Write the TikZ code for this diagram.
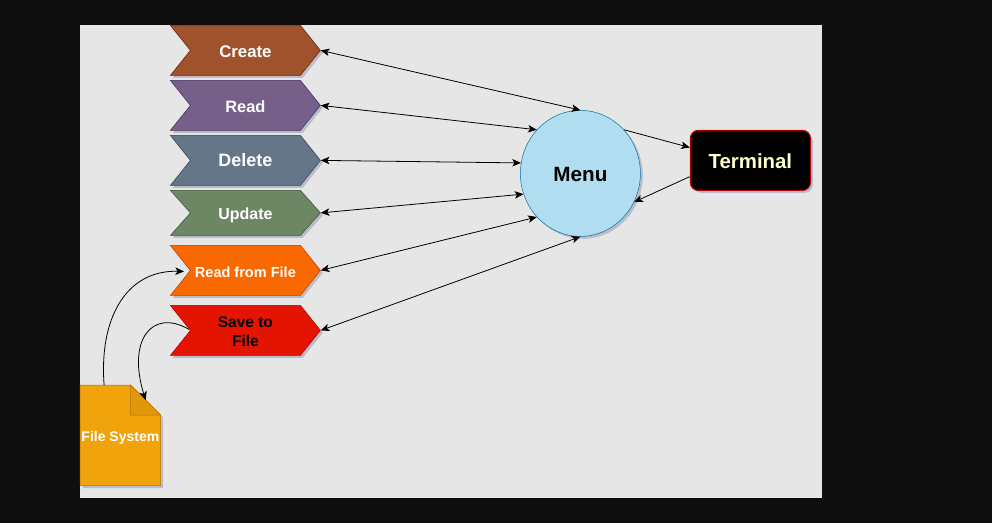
\documentclass[tikz,border=0pt]{standalone}
\usepackage{fontspec}
\setmainfont{Liberation Sans}
\usetikzlibrary{shapes.symbols, shapes.geometric, shadows, calc, arrows.meta}

\definecolor{panelgray}{HTML}{E6E6E6}
\definecolor{outerdark}{HTML}{0E0E0E}
\definecolor{shadowblue}{HTML}{6A6F9C}

\tikzset{
    softshadow/.style={drop shadow={shadow xshift=1.8pt, shadow yshift=-1.8pt, fill=shadowblue, opacity=0.35}},
    chevron/.style={shape=signal, signal from=west, signal to=east, signal pointer angle=102.7,
        minimum width=112.5pt, minimum height=37.5pt, inner sep=0pt, align=center,
        font=\bfseries, text=white, softshadow},
    onelinetext/.style={text height=10.5pt, text depth=0pt},
    arrowhead/.tip={Stealth[length=6.5pt, width=5.6pt, inset=1.6pt]},
    arrowboth/.style={arrowhead-arrowhead, draw, line width=0.6pt},
    arrowone/.style={-arrowhead, draw, line width=0.6pt}
}

\begin{document}
\begin{tikzpicture}[x=0.75pt, y=-0.75pt]

    % Fundo
    \fill[outerdark] (0,0) rectangle (992,523);
    \fill[panelgray] (80,25) rectangle (822,498);

    % Nodos de operacoes
    \node[chevron, onelinetext, fill={rgb,255:red,160;green,82;blue,45}, draw={rgb,255:red,109;green,31;blue,0}, font=\bfseries\fontsize{12.6pt}{15pt}\selectfont] (create) at (245.4,50.4) {Create};
    \node[chevron, onelinetext, fill={rgb,255:red,118;green,96;blue,138}, draw={rgb,255:red,67;green,45;blue,87}, font=\bfseries\fontsize{12.3pt}{15pt}\selectfont] (read) at (245.4,105.4) {Read};
    \node[chevron, fill={rgb,255:red,100;green,118;blue,135}, draw={rgb,255:red,49;green,67;blue,84}, font=\bfseries\fontsize{13.5pt}{15pt}\selectfont] (delete) at (245.4,160.4) {Delete};
    \node[chevron, onelinetext, signal pointer angle=96.7, minimum height=33.75pt, fill={rgb,255:red,109;green,135;blue,100}, draw={rgb,255:red,58;green,84;blue,49}, font=\bfseries\fontsize{12pt}{15pt}\selectfont] (update) at (245.4,212.9) {Update};
    \node[chevron, onelinetext, fill={rgb,255:red,250;green,104;blue,0}, draw={rgb,255:red,199;green,53;blue,0}, font=\bfseries\fontsize{10.9pt}{14pt}\selectfont] (readfile) at (245.4,270.4) {Read from File};
    \node[chevron, fill={rgb,255:red,229;green,20;blue,0}, draw={rgb,255:red,178;green,0;blue,0}, text=black, font=\bfseries\fontsize{11.6pt}{14.2pt}\selectfont] (savefile) at (245.4,330.4) {\rule{0pt}{10.5pt}Save to\\File};

    % Nodos principais
    \node[ellipse, text height=12.6pt, text depth=0pt, minimum width=90pt, minimum height=94.5pt, inner sep=0pt, fill={rgb,255:red,177;green,221;blue,240}, draw={rgb,255:red,16;green,115;blue,158}, softshadow, font=\bfseries\fontsize{15.5pt}{18pt}\selectfont] (menu) at (580.4,173.4) {Menu};
    \node[rectangle, text height=12.5pt, text depth=0pt, rounded corners=6pt, minimum width=90pt, minimum height=45pt, fill=black, draw={rgb,255:red,178;green,0;blue,0}, line width=0.9pt, text={rgb,255:red,255;green,255;blue,204}, softshadow, font=\bfseries\fontsize{15.3pt}{18pt}\selectfont] (terminal) at (750.4,160.4) {Terminal};

    % Nodo do arquivo
    \node[minimum width=60pt, minimum height=75pt, inner sep=0pt] (filesys) at (120.4,435.4) {};
    \draw[fill={rgb,255:red,240;green,163;blue,10}, draw={rgb,255:red,189;green,112;blue,0}, softshadow] (filesys.north west) -- ($(filesys.north east)+(-30,0)$) -- ($(filesys.north east)+(0,30)$) -- (filesys.south east) -- (filesys.south west) -- cycle;
    \draw[fill={rgb,255:red,224;green,152;blue,10}, draw={rgb,255:red,189;green,112;blue,0}] ($(filesys.north east)+(-30,0)$) -- ($(filesys.north east)+(-30,30)$) -- ($(filesys.north east)+(0,30)$) -- cycle;
    \node[text=white, font=\bfseries\fontsize{10.5pt}{13pt}\selectfont, inner sep=0pt] (filelabel) at (120.4,438) {File System};

    % Pontos livres das curvas
    \coordinate (fileout) at ($(filesys.north west)+(24,0)$);
    \coordinate (filein) at ($(filesys.north east)+(-15,15)$);
    \coordinate (readin) at ($(readfile.west)+(-6,1)$);
    \coordinate (saveout) at ($(savefile.west)+(-1,-1)$);

    % Setas principais
    \path[arrowboth] (create.east) -- (menu.north);
    \path[arrowboth] (read.east) -- (menu.135);
    \path[arrowboth] (delete.east) -- (menu.170);
    \path[arrowboth] (update.east) -- (menu.200);
    \path[arrowboth] (readfile.east) -- (menu.225);
    \path[arrowboth] (savefile.east) -- (menu.south);
    \path[arrowone] (menu.45) -- (terminal.168);
    \path[arrowone] (terminal.195) -- (menu.332);

    % Setas curvas
    \path[arrowone] (fileout) .. controls (99,320) and (125,270) .. (readin);
    \path[arrowone] (saveout) .. controls (152,308) and (127,340) .. (filein);

\end{tikzpicture}
\end{document}
